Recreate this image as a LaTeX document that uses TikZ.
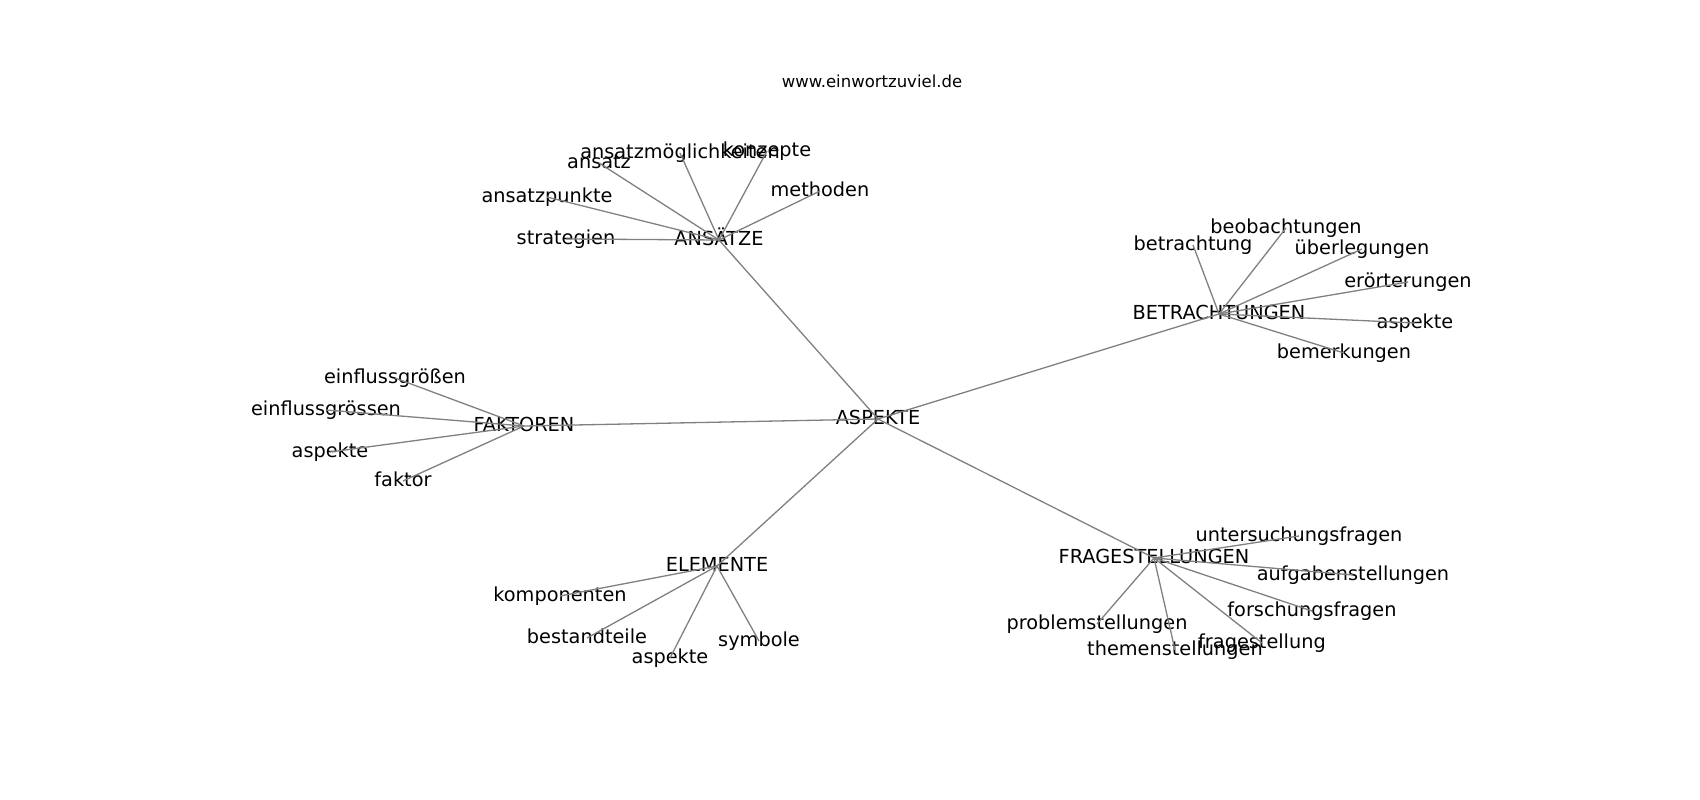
\documentclass[tikz,border=0pt]{standalone}
\usepackage{fontspec}
\setmainfont{DejaVu Sans}
\tikzset{
  lbl/.style={inner sep=0pt, text height=16pt, text depth=6pt, font=\fontsize{19.3}{22}\selectfont},
  edge/.style={draw=gray, line width=1.3pt}
}
\begin{document}
\begin{tikzpicture}[x=1pt,y=-1pt]
\useasboundingbox[fill=white] (0,0) rectangle (1700,800);
\node[inner sep=0pt, anchor=base, font=\fontsize{16.5}{19}\selectfont] (title) at (872,88) {www.einwortzuviel.de};
% hubs
\node[lbl] (asp) at (878,419) {ASPEKTE};
\node[lbl] (ans) at (719,240) {ANSÄTZE};
\node[lbl] (bet) at (1219,314) {BETRACHTUNGEN};
\node[lbl] (fak) at (524,426) {FAKTOREN};
\node[lbl] (ele) at (717,566) {ELEMENTE};
\node[lbl] (fra) at (1154,558) {FRAGESTELLUNGEN};
% ansaetze leaves
\node[lbl] (a1) at (566,239) {strategien};
\node[lbl] (a2) at (547,197) {ansatzpunkte};
\node[lbl] (a3) at (599,163) {ansatz};
\node[lbl] (a4) at (680,153) {ansatzmöglichkeiten};
\node[lbl] (a5) at (767,151) {konzepte};
\node[lbl] (a6) at (820,191) {methoden};
% betrachtungen leaves
\node[lbl] (b1) at (1193,245) {betrachtung};
\node[lbl] (b2) at (1286,228) {beobachtungen};
\node[lbl] (b3) at (1362,249) {überlegungen};
\node[lbl] (b4) at (1408,282) {erörterungen};
\node[lbl] (b5) at (1415,323) {aspekte};
\node[lbl] (b6) at (1344,353) {bemerkungen};
% faktoren leaves
\node[lbl] (f1) at (395,378) {einflussgrößen};
\node[lbl] (f2) at (326,410) {einflussgrössen};
\node[lbl] (f3) at (330,452) {aspekte};
\node[lbl] (f4) at (403,481) {faktor};
% elemente leaves
\node[lbl] (e1) at (560,596) {komponenten};
\node[lbl] (e2) at (587,638) {bestandteile};
\node[lbl] (e3) at (670,658) {aspekte};
\node[lbl] (e4) at (759,641) {symbole};
% fragestellungen leaves
\node[lbl] (q1) at (1299,536) {untersuchungsfragen};
\node[lbl] (q2) at (1353,575) {aufgabenstellungen};
\node[lbl] (q3) at (1312,611) {forschungsfragen};
\node[lbl] (q4) at (1262,643) {fragestellung};
\node[lbl] (q5) at (1175,650) {themenstellungen};
\node[lbl] (q6) at (1097,624) {problemstellungen};
% edges
\begin{scope}[on background layer/.try]
\foreach \h in {ans,bet,fak,ele,fra} \draw[edge] (asp.center) -- (\h.center);
\foreach \l in {a1,a2,a3,a4,a5,a6} \draw[edge] (ans.center) -- (\l.center);
\foreach \l in {b1,b2,b3,b4,b5,b6} \draw[edge] (bet.center) -- (\l.center);
\foreach \l in {f1,f2,f3,f4} \draw[edge] (fak.center) -- (\l.center);
\foreach \l in {e1,e2,e3,e4} \draw[edge] (ele.center) -- (\l.center);
\foreach \l in {q1,q2,q3,q4,q5,q6} \draw[edge] (fra.center) -- (\l.center);
\end{scope}
\end{tikzpicture}
\end{document}
